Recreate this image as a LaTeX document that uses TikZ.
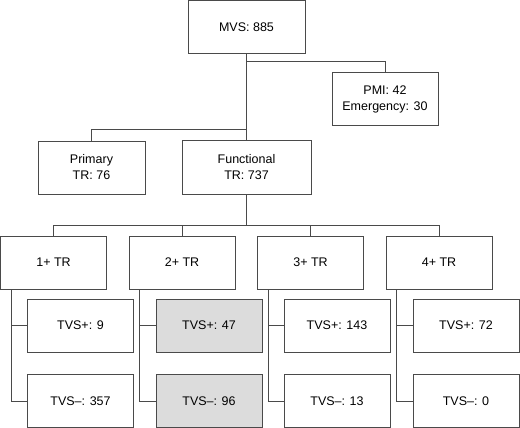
\documentclass[tikz,border=0pt]{standalone}
\usepackage{fontspec}
\setmainfont{Liberation Sans}
\usetikzlibrary{calc}
\definecolor{linec}{HTML}{4A4A4A}
\definecolor{shade}{HTML}{DCDCDC}
\tikzset{
  box/.style={draw=linec, line width=1pt, fill=white, inner sep=0pt, align=center,
    minimum height=53pt, font=\fontsize{12.5}{16}\selectfont},
  wbox/.style={box, minimum width=106pt},
  gbox/.style={wbox, fill=shade},
  conn/.style={draw=linec, line width=1pt}
}
\begin{document}
\begin{tikzpicture}[x=1pt,y=-1pt]
\useasboundingbox (0,0) rectangle (520,428);
\node[box, minimum width=117pt] (mvs) at (246.5,27) {MVS: 885};
\node[box, minimum width=106pt] (pmi) at (385,99.5) {PMI: 42\\Emergency: 30};
\node[box, minimum width=107pt] (prim) at (91.5,167.5) {Primary\\TR: 76};
\node[box, minimum width=129pt, minimum height=54pt] (func) at (246.5,167) {Functional\\TR: 737};
\node[wbox] (tr1) at (53.5,262.5) {1+ TR};
\node[wbox] (tr2) at (182,262.5) {2+ TR};
\node[wbox] (tr3) at (310.5,262.5) {3+ TR};
\node[wbox] (tr4) at (439,262.5) {4+ TR};
\node[wbox] (p1) at (80.5,325.5) {TVS+: 9};
\node[gbox] (p2) at (209,325.5) {TVS+: 47};
\node[wbox] (p3) at (337,325.5) {TVS+: 143};
\node[wbox] (p4) at (466,325.5) {TVS+: 72};
\node[wbox] (m1) at (80.5,401) {TVS–: 357};
\node[gbox] (m2) at (209,401) {TVS–: 96};
\node[wbox] (m3) at (337,401) {TVS–: 13};
\node[wbox] (m4) at (466,401) {TVS–: 0};
\coordinate (jp) at (246.5,62);
\coordinate (jq) at (246.5,130);
\coordinate (jt) at (246.5,225);
\draw[conn] (mvs.south) -- (func.north);
\draw[conn] (jp) -| (pmi.north);
\draw[conn] (jq) -| (prim.north);
\draw[conn] (func.south) -- (jt);
\draw[conn] (jt -| tr1.north) -- (jt -| tr4.north);
\foreach \i in {1,2,3,4}{
  \draw[conn] (jt -| tr\i.north) -- (tr\i.north);
  \coordinate (s\i) at ($(tr\i.south west)+(11,0)$);
  \draw[conn] (s\i) |- (m\i.west);
  \draw[conn] (s\i |- p\i.west) -- (p\i.west);
}
\end{tikzpicture}
\end{document}
